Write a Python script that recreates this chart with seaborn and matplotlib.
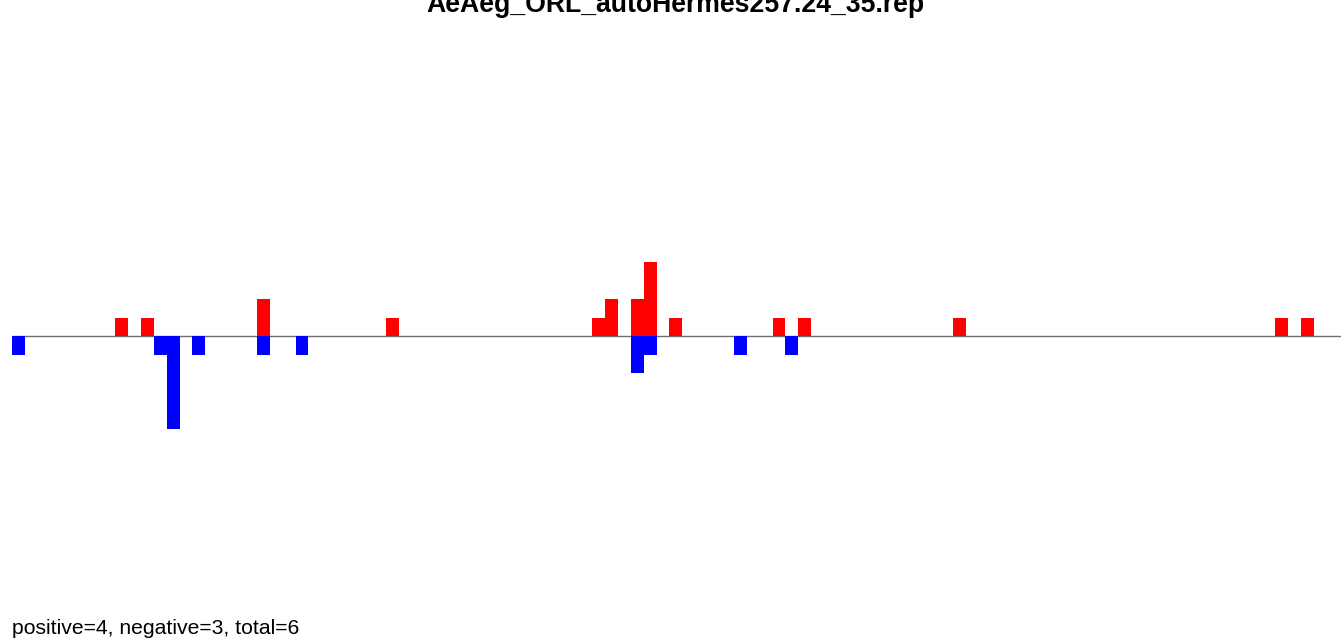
import numpy as np
import pandas as pd
import matplotlib
matplotlib.use("Agg")
import matplotlib.pyplot as plt
import seaborn as sns

# bin index and count for each side
pos_bins = [8, 10, 19, 29, 45, 46, 48, 49, 51, 59, 61, 73, 98, 100]
pos_counts = [1, 1, 2, 1, 1, 2, 2, 4, 1, 1, 1, 1, 1, 1]
neg_bins = [0, 11, 12, 14, 19, 22, 48, 49, 56, 60]
neg_counts = [-1, -1, -5, -1, -1, -1, -2, -1, -1, -1]

title = "AeAeg_ORL_autoHermes257.24_35.rep"
footer = "positive=4, negative=3, total=6"

sns.set_theme(style="white")
plt.rcParams['font.family'] = ['Liberation Sans', 'DejaVu Sans']

W, H = 1341, 638
fig = plt.figure(figsize=(W / 100, H / 100), dpi=100)
ax = fig.add_axes([0, 0, 1, 1])

pos_df = pd.DataFrame({"bin": pos_bins, "count": pos_counts})
neg_df = pd.DataFrame({"bin": neg_bins, "count": neg_counts})

sns.barplot(data=pos_df, x="bin", y="count", native_scale=True, width=1,
            color="#ff0000", saturation=1, linewidth=0, ax=ax)
sns.barplot(data=neg_df, x="bin", y="count", native_scale=True, width=1,
            color="#0000ff", saturation=1, linewidth=0, ax=ax)

# pixel mapping: bin width 12.89px, first edge at 12px, baseline at 336px, unit 18.5px
bw = 12.89
ax.set_xlim(-0.5 - 12 / bw, -0.5 + (W - 12) / bw)
unit = 18.5
ax.set_ylim(-(H - 336) / unit, 336 / unit)
ax.axhline(0, xmin=12 / W, xmax=1, color="#707070", lw=1, zorder=0)

ax.set_axis_off()

fig.text(0.504, 1 - 12 / H, title, ha="center", va="baseline",
         fontsize=19.2, fontweight="bold", color="black")
fig.text(12 / W, 1 - 634 / H, footer, ha="left", va="baseline",
         fontsize=15.2, color="black")

fig.savefig("out.png", dpi=100)
